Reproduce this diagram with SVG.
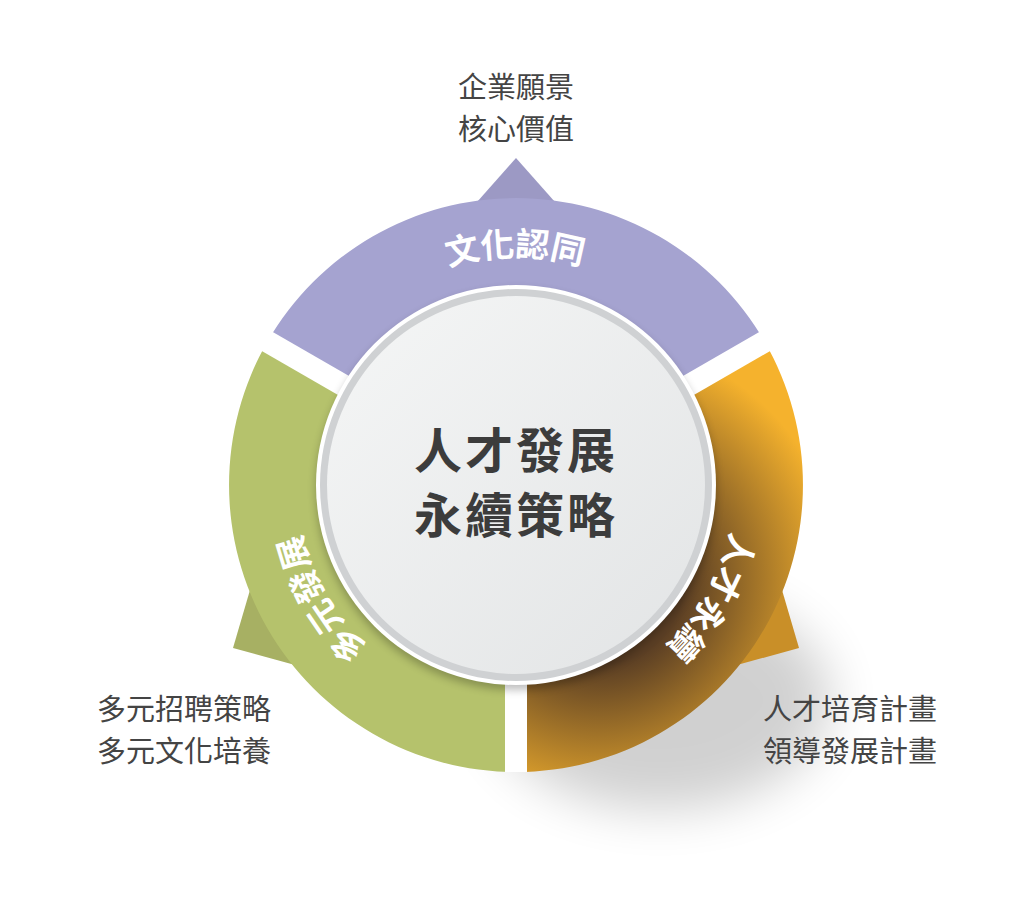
<svg xmlns="http://www.w3.org/2000/svg" width="1034" height="911" viewBox="0 0 1034 911">
<style>
.lbl{font-family:"Noto Sans CJK TC","Noto Sans CJK SC",sans-serif;font-size:29px;fill:#444}
.arc{font-family:"Noto Sans CJK TC","Noto Sans CJK SC",sans-serif;font-size:34px;font-weight:bold;fill:#fff;letter-spacing:2px}
.ctr{font-family:"Noto Sans CJK TC","Noto Sans CJK SC",sans-serif;font-size:48px;font-weight:bold;fill:#3c3c3c;letter-spacing:3px}
</style>
<defs>
<radialGradient id="og" cx="600" cy="580" r="240" gradientUnits="userSpaceOnUse">
<stop offset="0.35" stop-color="#5a3e24"/><stop offset="1" stop-color="#f5b22d"/></radialGradient>
<linearGradient id="cg" x1="0" y1="0" x2="1" y2="1"><stop offset="0" stop-color="#f5f6f6"/><stop offset="1" stop-color="#e2e4e5"/></linearGradient>
<filter id="bl" x="-50%" y="-50%" width="200%" height="200%"><feGaussianBlur stdDeviation="25"/></filter>
<filter id="sh" x="-20%" y="-20%" width="140%" height="140%"><feGaussianBlur stdDeviation="4"/></filter>
<path id="pt" d="M271.9,485.6 A235 235 0 0 1 760.1,485.6"/>
<path id="pr" d="M650.8,292.5 A235 235 0 0 1 416.7,698.0"/>
<path id="pl" d="M615.3,698.0 A235 235 0 0 1 381.2,292.5"/>
</defs>
<ellipse cx="660" cy="700" rx="170" ry="110" fill="#000" opacity="0.18" filter="url(#bl)"/>
<g id="segments">
<polygon points="516,158 477,202 555,202" fill="#9c99c4"/>
<polygon points="233,648 250,590 295,665" fill="#a7b063"/>
<polygon points="799,648 782,590 737,665" fill="#c98f28"/>
<path id="top" d="M267.5,341.5 A287 287 0 0 1 764.5,341.5 L645.9,410 A150 150 0 0 0 386.1,410 Z" fill="#a5a3d0"/>
<path id="right" d="M764.5,341.5 A287 287 0 0 1 516,772 L516,635 A150 150 0 0 0 645.9,410 Z" fill="url(#og)"/>
<path id="left" d="M516,772 A287 287 0 0 1 267.5,341.5 L386.1,410 A150 150 0 0 0 516,635 Z" fill="#b5c26c"/>
<g stroke="#fff" stroke-width="22"><line x1="516" y1="485" x2="256" y2="335"/><line x1="516" y1="485" x2="776" y2="335"/><line x1="516" y1="485" x2="516" y2="772"/></g>
</g>
<g id="center">
<circle cx="516" cy="490" r="200" fill="#000" opacity="0.25" filter="url(#sh)"/>
<circle cx="516" cy="485" r="200" fill="#fff"/>
<circle cx="516" cy="485" r="196" fill="#cfd1d3"/>
<circle cx="516" cy="485" r="189" fill="url(#cg)"/>
<text class="ctr" x="516" y="468" text-anchor="middle">人才發展</text>
<text class="ctr" x="516" y="533" text-anchor="middle">永續策略</text>
</g>
<g id="arc-labels">
<text class="arc" dominant-baseline="central"><textPath href="#pt" startOffset="50%" text-anchor="middle">文化認同</textPath></text>
<text class="arc" dominant-baseline="central"><textPath href="#pr" startOffset="50%" text-anchor="middle">人才永續</textPath></text>
<text class="arc" dominant-baseline="central"><textPath href="#pl" startOffset="50%" text-anchor="middle">多元發展</textPath></text>
</g>
<g id="labels">
<text class="lbl" x="516" y="98" text-anchor="middle">企業願景</text>
<text class="lbl" x="516" y="140" text-anchor="middle">核心價值</text>
<text class="lbl" x="97" y="720">多元招聘策略</text>
<text class="lbl" x="97" y="762">多元文化培養</text>
<text class="lbl" x="937" y="720" text-anchor="end">人才培育計畫</text>
<text class="lbl" x="937" y="762" text-anchor="end">領導發展計畫</text>
</g>
</svg>
